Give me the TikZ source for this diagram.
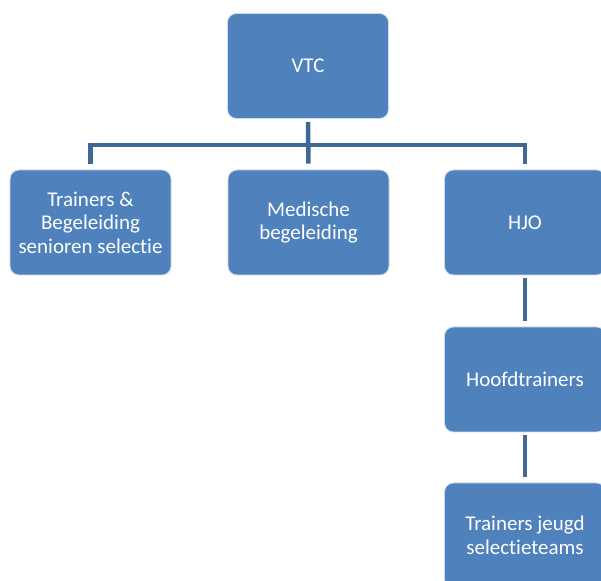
\documentclass[tikz,border=0pt]{standalone}
\usepackage{fontspec}
\setmainfont{Carlito}[Ligatures={NoCommon,NoContextual}]
\definecolor{boxblue}{RGB}{79,129,189}
\definecolor{lineblue}{RGB}{64,104,150}
\begin{document}
\begin{tikzpicture}[x=1pt,y=1pt,
  orgbox/.style={draw=white!70!boxblue, line width=0.8pt, fill=boxblue, rounded corners=9pt,
    minimum width=161pt, minimum height=105pt, inner sep=2pt, text=white, align=center,
    font=\fontsize{21}{23.5}\selectfont},
  conn/.style={draw=lineblue, line width=4.5pt, shorten <=3pt, shorten >=6pt}]
\useasboundingbox (0,0) rectangle (601,580);
\node[orgbox] (vtc) at (308,514) {VTC};
\node[orgbox] (tr) at (90.5,357.5) {Trainers \&\\Begeleiding\\senioren selectie};
\node[orgbox] (med) at (308.5,357.5) {Medische\\begeleiding};
\node[orgbox] (hjo) at (525,357.5) {HJO};
\node[orgbox] (hoofd) at (525,200.5) {Hoofdtrainers};
\node[orgbox] (jeugd) at (525,44.5) {Trainers jeugd\\selectieteams};
\coordinate (bus) at (308,435);
\draw[conn] (vtc.south) -- (med.north);
\draw[draw=lineblue, line width=4.5pt, shorten >=6pt] (bus) -| (tr.north);
\draw[draw=lineblue, line width=4.5pt, shorten >=6pt] (bus) -| (hjo.north);
\draw[conn] (hjo.south) -- (hoofd.north);
\draw[conn] (hoofd.south) -- (jeugd.north);
\end{tikzpicture}
\end{document}
